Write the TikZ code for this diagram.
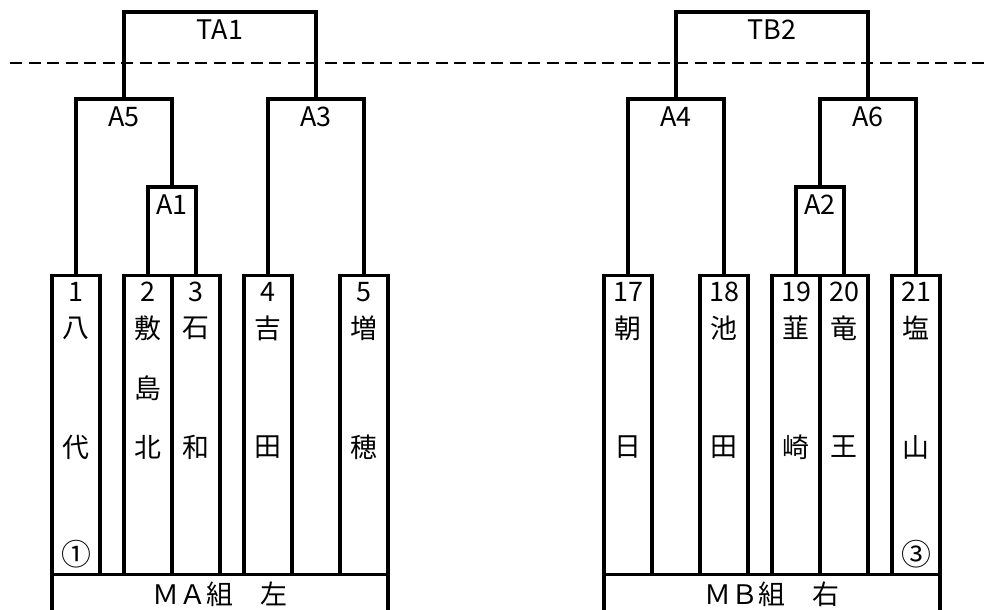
\documentclass[tikz,border=0pt]{standalone}
\usepackage{fontspec}
\setmainfont{Noto Sans CJK JP}
\usetikzlibrary{positioning}

\begin{document}
\begin{tikzpicture}[x=1bp,y=-1bp,
    font=\fontsize{27}{30}\selectfont,
    line/.style={line width=3.2bp,line join=miter},
    entry/.style={draw,line width=3.2bp,rectangle,anchor=north,
                  minimum width=48bp,minimum height=299bp,inner sep=0pt},
    txt/.style={inner sep=0pt},
    seed/.style={inner sep=0pt,font=\fontsize{30}{33}\selectfont},
    rnd/.style={anchor=north,inner xsep=0pt,inner ysep=8bp},
    grp/.style={draw,line width=3.2bp,rectangle,anchor=north,
                minimum width=336bp,minimum height=40bp,inner sep=0pt},
    cut/.style={line width=2.2bp,dash pattern=on 12bp off 6.5bp}]
  \useasboundingbox (0,0) rectangle (984,610);
  \clip (0,0) rectangle (984,610);

  % entries
  \foreach \id/\x/\hi/\lo in {1/76/八/代,3/196/石/和,4/268/吉/田,5/364/増/穂,
      17/628/朝/日,18/724/池/田,19/796/韮/崎,20/844/竜/王,21/916/塩/山}{
    \node[entry] (b\id) at (\x,274) {};
    \node[txt] (n\id) at (\x,292) {\id};
    \node[txt] (u\id) at (\x,328) {\hi};
    \node[txt] (d\id) at (\x,447) {\lo};
  }
  \node[entry] (b2) at (148,274) {};
  \node[txt] (n2) at (148,292) {2};
  \node[txt] (u2) at (148,328) {敷};
  \node[txt] (m2) at (148,388) {島};
  \node[txt] (d2) at (148,447) {北};
  \node[seed] (s1) at (76,554) {①};
  \node[seed] (s3) at (916,554) {③};

  % groups
  \node[grp] (MA) at (220,573) {ＭＡ組　左};
  \node[grp] (MB) at (772,573) {ＭＢ組　右};

  % rounds
  \node[rnd] (A1) at (172,187) {A1};
  \node[rnd] (A5) at (124,99) {A5};
  \node[rnd] (A3) at (316,99) {A3};
  \node[rnd] (TA1) at (220,12) {TA1};
  \node[rnd] (A2) at (820,187) {A2};
  \node[rnd] (A4) at (676,99) {A4};
  \node[rnd] (A6) at (868,99) {A6};
  \node[rnd] (TB2) at (772,12) {TB2};

  \draw[cut] (10,63) -- (990,63);

  \draw[line] (b2.north) |- (A1.north) -| (b3.north);
  \draw[line] (b1.north) |- (A5.north) -| (A1.north);
  \draw[line] (b4.north) |- (A3.north) -| (b5.north);
  \draw[line] (A5.north) |- (TA1.north) -| (A3.north);
  \draw[line] (b19.north) |- (A2.north) -| (b20.north);
  \draw[line] (b17.north) |- (A4.north) -| (b18.north);
  \draw[line] (A2.north) |- (A6.north) -| (b21.north);
  \draw[line] (A4.north) |- (TB2.north) -| (A6.north);
\end{tikzpicture}
\end{document}
